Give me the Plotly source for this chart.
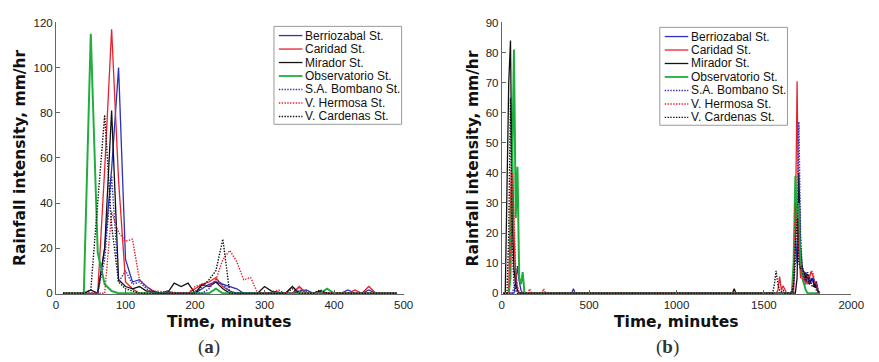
import plotly.graph_objects as go

# ---------------- station names and styles ----------------
stations = ["Berriozabal St.", "Caridad St.", "Mirador St.", "Observatorio St.",
            "S.A. Bombano St.", "V. Hermosa St.", "V. Cardenas St."]
colors = ["#2f2fb8", "#e8202a", "#111111", "#1fae3e", "#2f2fb8", "#e8202a", "#111111"]
DOT = "1.4px,1.4px"
dashes = ["solid", "solid", "solid", "solid", DOT, DOT, DOT]
widths = [1.3, 1.3, 1.3, 2.0, 1.4, 1.4, 1.4]

# ---------------- event (a): time (min) / intensity (mm/hr) ----------------
a_berriozabal_t = [10, 60, 70, 80, 90, 100, 110, 120, 130, 140, 150, 160, 170, 200, 210, 220, 230, 240, 250, 260, 270,
                   340, 350, 360, 370, 410, 420, 430, 440, 450, 460, 490]
a_berriozabal_v = [0, 0, 20, 55, 100, 15, 5, 6, 3, 1, 0, 1, 0, 0, 2, 4, 5, 4, 3, 2, 0,
                   0, 1, 1.5, 0, 0, 1.5, 0, 0, 1.5, 0, 0]

a_caridad_t = [10, 60, 70, 80, 90, 100, 110, 120, 190, 200, 210, 220, 230, 240, 250, 260, 270,
               340, 350, 360, 420, 430, 440, 450, 460, 490]
a_caridad_v = [0, 0, 55, 117, 50, 5, 2, 0, 0, 2, 4, 5, 7, 3, 1, 0, 0,
               0, 3, 0, 0, 1.5, 0, 3, 0, 0]

a_mirador_t = [10, 40, 50, 60, 70, 80, 90, 100, 110, 120, 130, 140, 150, 160, 170, 180, 190, 200, 210, 220, 230,
               240, 250, 260, 290, 300, 310, 330, 340, 350, 370, 380, 390, 490]
a_mirador_v = [0, 0, 1.5, 0, 20, 81, 6, 3, 2, 3, 1, 1, 0, 0, 4.5, 3, 4.5, 0, 4, 3, 5,
               2, 0, 0, 0, 3, 1, 0, 3, 0, 0, 1, 0, 0]

a_observatorio_t = [10, 40, 50, 60, 70, 80, 90, 220, 230, 240, 380, 390, 400, 490]
a_observatorio_v = [0, 0, 115, 18, 4, 1, 0, 0, 2, 0, 0, 2, 0, 0]

a_bombano_t = [10, 60, 70, 80, 90, 100, 110, 120, 130, 140, 210, 220, 230, 240, 250, 260, 340, 350, 360, 370, 490]
a_bombano_v = [0, 0, 15, 52, 5, 10, 4, 5, 2, 0, 0, 2, 6, 4, 1, 0, 0, 1, 1, 0, 0]

a_hermosa_t = [10, 70, 80, 90, 100, 110, 120, 130, 140, 190, 200, 210, 220, 230, 240, 250, 260, 270, 280, 290,
               310, 320, 330, 340, 350, 360, 490]
a_hermosa_v = [0, 0, 36, 27, 23, 24, 6, 3, 1, 0, 3, 4, 3, 6, 15, 19, 14, 6, 7, 0,
               0, 1.5, 0, 0, 2.5, 0, 0]

a_cardenas_t = [10, 40, 50, 60, 70, 80, 90, 100, 110, 120, 200, 210, 220, 230, 240, 250, 260,
                330, 340, 350, 370, 380, 390, 490]
a_cardenas_v = [0, 0, 1.5, 40, 79, 30, 5, 2, 1, 0, 0, 3, 6, 10, 24, 0, 0,
                0, 2, 0, 0, 1.5, 0, 0]

# ---------------- event (b): time (min) / intensity (mm/hr) ----------------
b_berriozabal_t = [10, 70, 80, 90, 100, 110, 120, 400, 410, 420, 1660, 1670, 1680, 1690, 1700, 1710, 1720, 1730,
                   1740, 1750, 1760, 1770, 1780, 1790, 1800, 1810, 1820]
b_berriozabal_v = [0, 0, 3, 9, 4, 1, 0, 0, 1.5, 0, 0, 5, 19, 10, 30, 8, 6, 4,
                   7, 5, 3, 5, 4, 2, 4, 1, 0]

b_caridad_t = [10, 40, 50, 60, 70, 80, 90, 100, 1570, 1580, 1590, 1600, 1610, 1620, 1630, 1650, 1660, 1670, 1680,
               1690, 1700, 1710, 1720, 1730, 1740, 1750, 1760, 1770, 1780, 1790, 1800, 1810, 1820]
b_caridad_v = [0, 0, 30, 51, 20, 5, 1, 0, 0, 1, 5.5, 1, 2.5, 1, 0, 0, 1, 0, 20,
               70.5, 15, 5, 8, 4, 6, 3, 5, 7, 6, 3, 2, 1, 0]

b_mirador_t = [10, 20, 30, 40, 50, 60, 70, 80, 90, 100, 1320, 1330, 1340, 1680, 1690, 1700, 1710, 1720, 1730,
               1740, 1750, 1760, 1770, 1780, 1790, 1800, 1810, 1820]
b_mirador_v = [0, 0, 35, 70, 84, 25, 8, 3, 1, 0, 0, 1.5, 0, 0, 5, 40, 15, 8, 7,
               5, 6, 3, 4, 5, 2, 3, 0, 0]

b_observatorio_t = [10, 40, 50, 60, 70, 80, 90, 100, 110, 120, 130, 1660, 1670, 1680, 1690, 1700, 1710, 1720,
                    1730, 1740, 1750, 1820]
b_observatorio_v = [0, 0, 5, 45, 81, 25, 42, 5, 3, 7, 0, 0, 10, 39, 25, 30, 10, 5,
                    3, 1, 0, 0]

b_bombano_t = [10, 60, 70, 80, 90, 100, 1660, 1670, 1680, 1690, 1700, 1710, 1720, 1730, 1740, 1750, 1760,
               1770, 1780, 1790, 1800, 1810, 1820]
b_bombano_v = [0, 0, 2, 5, 2, 0, 0, 2, 10, 15, 57, 20, 7, 5, 3, 6, 4,
               3, 5, 4, 3, 1, 0]

b_hermosa_t = [10, 40, 50, 60, 70, 80, 90, 100, 150, 160, 170, 230, 240, 250, 1660, 1670, 1680, 1690, 1700,
               1710, 1720, 1730, 1740, 1750, 1760, 1770, 1780, 1790, 1800, 1810, 1820]
b_hermosa_v = [0, 0, 10, 40, 25, 8, 2, 0, 0, 1.5, 0, 0, 1.5, 0, 0, 5, 30, 20, 12,
               8, 5, 4, 3, 6, 5, 7.5, 7, 4, 3, 1, 0]

b_cardenas_t = [10, 30, 40, 50, 60, 70, 80, 90, 1550, 1560, 1570, 1580, 1590, 1600, 1610, 1620, 1660, 1670,
                1680, 1690, 1700, 1710, 1720, 1730, 1740, 1750, 1760, 1770, 1780, 1790, 1800, 1810, 1820]
b_cardenas_v = [0, 0, 20, 65, 15, 3, 1, 0, 0, 3, 7.4, 3, 1, 0.5, 1, 0, 0, 3,
                15, 25, 10, 8, 9, 6, 4, 7, 5, 3, 2, 3, 1, 0.5, 0]

# ---------------- axis ticks ----------------
a_xticks = [0, 100, 200, 300, 400, 500]
a_yticks = [0, 20, 40, 60, 80, 100, 120]
b_xticks = [0, 500, 1000, 1500, 2000]
b_yticks = [0, 10, 20, 30, 40, 50, 60, 70, 80, 90]

event_a = [(a_berriozabal_t, a_berriozabal_v), (a_caridad_t, a_caridad_v), (a_mirador_t, a_mirador_v),
           (a_observatorio_t, a_observatorio_v), (a_bombano_t, a_bombano_v), (a_hermosa_t, a_hermosa_v),
           (a_cardenas_t, a_cardenas_v)]
event_b = [(b_berriozabal_t, b_berriozabal_v), (b_caridad_t, b_caridad_v), (b_mirador_t, b_mirador_v),
           (b_observatorio_t, b_observatorio_v), (b_bombano_t, b_bombano_v), (b_hermosa_t, b_hermosa_v),
           (b_cardenas_t, b_cardenas_v)]

W, H = 879, 362


def px(x):
    return x / W


def py(y):
    return 1 - y / H


fig = go.Figure()

for i, (t, v) in enumerate(event_a):
    fig.add_trace(go.Scatter(x=t, y=v, mode="lines", name=stations[i], showlegend=False,
                             line=dict(color=colors[i], dash=dashes[i], width=widths[i]),
                             xaxis="x", yaxis="y"))
for i, (t, v) in enumerate(event_b):
    fig.add_trace(go.Scatter(x=t, y=v, mode="lines", name=stations[i], showlegend=False,
                             line=dict(color=colors[i], dash=dashes[i], width=widths[i]),
                             xaxis="x2", yaxis="y2"))

axis_style = dict(showline=True, linecolor="#666", linewidth=1, ticks="inside", ticklen=4,
                  tickcolor="#666", showgrid=False, zeroline=False,
                  tickfont=dict(family="Liberation Sans, Arial, sans-serif", size=11.5, color="#222"))

fig.update_layout(
    width=W, height=H, margin=dict(l=0, r=0, t=0, b=0),
    paper_bgcolor="white", plot_bgcolor="white",
    xaxis=dict(domain=[px(54), px(408)], range=[0, 500], tickvals=a_xticks, anchor="y", **axis_style),
    yaxis=dict(domain=[py(297), py(17)], range=[-0.3, 120], tickvals=a_yticks, anchor="x", **axis_style),
    xaxis2=dict(domain=[px(508), px(864)], range=[0, 2000], tickvals=b_xticks, anchor="y2", **axis_style),
    yaxis2=dict(domain=[py(297), py(17)], range=[-0.25, 90], tickvals=b_yticks, anchor="x2", **axis_style),
)

title_font = dict(family="DejaVu Sans, Arial, sans-serif", size=15.5, color="#111")
annotations = []
shapes = []

# axis titles and panel labels
for x_c, y_title_x, tag, tag_x in [(231, 18, "a", 210), (686, 479, "b", 677)]:
    annotations.append(dict(text="<b>Time, minutes</b>", x=px(x_c), y=py(326), xref="paper", yref="paper",
                            showarrow=False, font=title_font, xanchor="center", yanchor="middle"))
    annotations.append(dict(text="<b>Rainfall intensity, mm/hr</b>", x=px(y_title_x), y=py(157),
                            xref="paper", yref="paper", showarrow=False, font=title_font, textangle=-90,
                            xanchor="center", yanchor="middle"))
    annotations.append(dict(text="(<b>%s</b>)" % tag, x=px(tag_x), y=py(352),
                            xref="paper", yref="paper", showarrow=False,
                            font=dict(family="Liberation Serif, Times New Roman, serif", size=19, color="#333"),
                            xanchor="center", yanchor="middle"))

# legend boxes drawn for each panel
legend_font = dict(family="Liberation Sans, Arial, sans-serif", size=12, color="#111")
for lx, ly in [(276, 21), (669, 22)]:
    shapes.append(dict(type="rect", xref="paper", yref="paper", x0=px(lx), x1=px(lx + 130),
                       y0=py(ly + 101), y1=py(ly), line=dict(color="#999", width=1), fillcolor="white",
                       layer="above"))
    for i, name in enumerate(stations):
        row_y = ly + 9.5 + i * 13.9
        shapes.append(dict(type="line", xref="paper", yref="paper", x0=px(lx + 5), x1=px(lx + 29),
                           y0=py(row_y), y1=py(row_y), layer="above",
                           line=dict(color=colors[i], dash=dashes[i], width=widths[i] if i != 3 else 1.8)))
        annotations.append(dict(text=name, x=px(lx + 30), y=py(row_y), xref="paper", yref="paper",
                                showarrow=False, font=legend_font, xanchor="left", yanchor="middle"))

fig.update_layout(annotations=annotations, shapes=shapes)
fig.write_html("out.html")
